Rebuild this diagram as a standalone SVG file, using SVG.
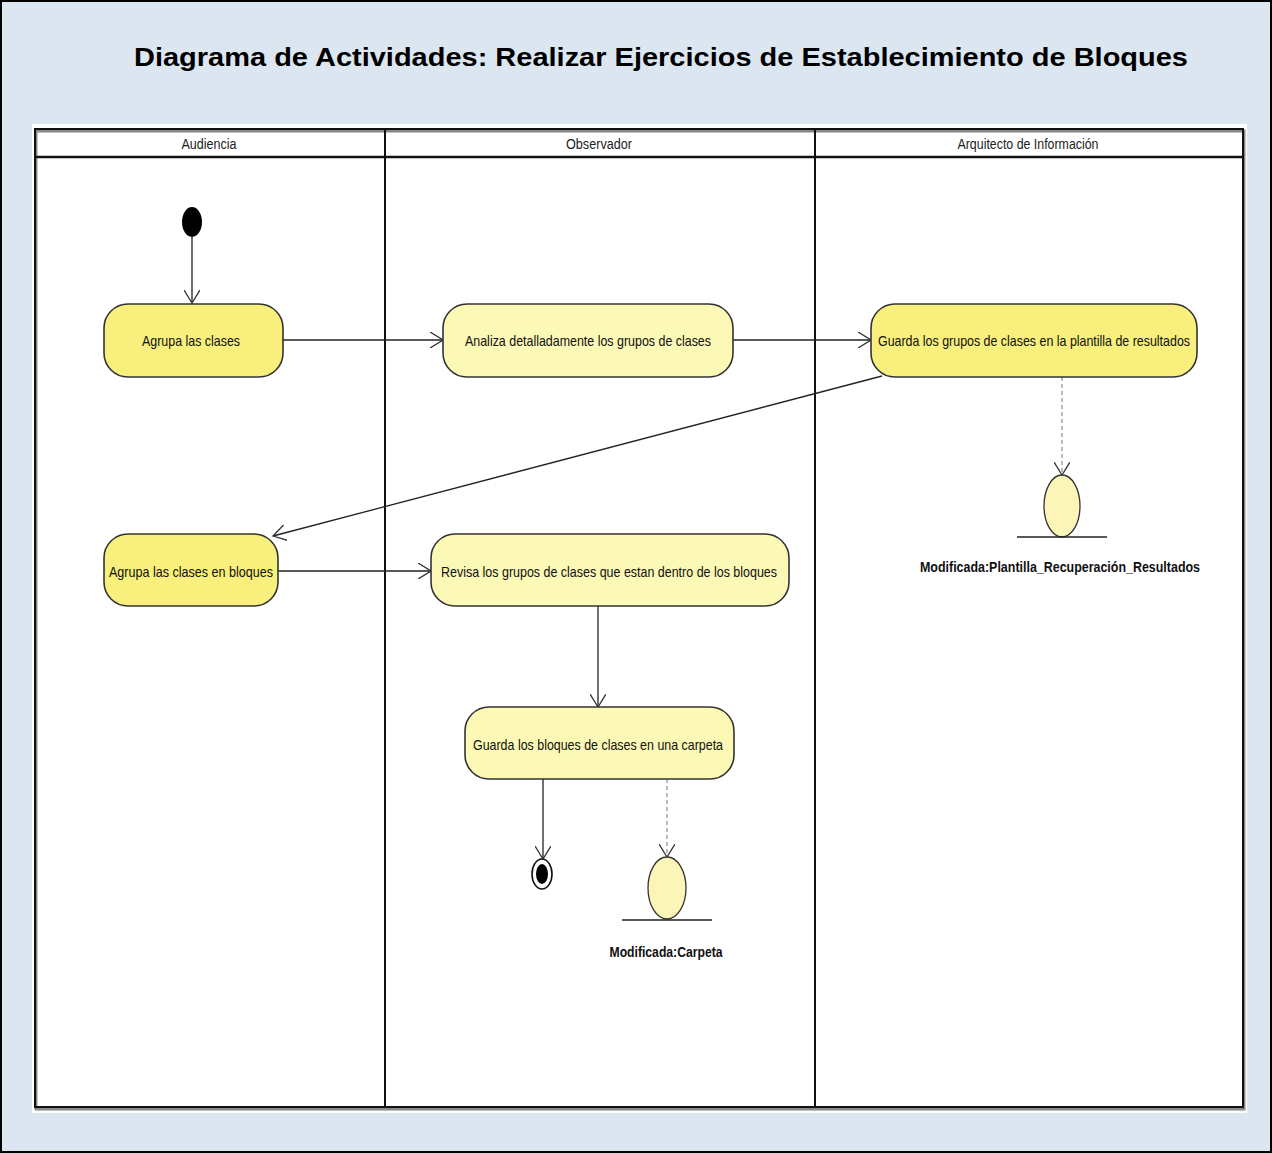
<svg xmlns="http://www.w3.org/2000/svg" width="1272" height="1153" viewBox="0 0 1272 1153">
<style>
.title{font-family:"Liberation Sans",Arial,sans-serif;font-weight:bold;font-size:25px;fill:#000}
.hdr{font-family:"Liberation Sans Narrow","Liberation Sans",sans-serif;font-size:14px;fill:#222}
.lbl{font-family:"Liberation Sans Narrow","Liberation Sans",sans-serif;font-size:15px;fill:#111}
.obj{font-family:"Liberation Sans Narrow","Liberation Sans",sans-serif;font-size:15px;font-weight:bold;fill:#111}
.act1{fill:#f8ef7c;stroke:#333;stroke-width:1.6}
.act2{fill:#fcf8b6;stroke:#333;stroke-width:1.6}
.objs{fill:#fbf6b8;stroke:#333;stroke-width:1.3}
.flow{stroke:#222;stroke-width:1.3;fill:none}
.dash{stroke:#777;stroke-width:1;stroke-dasharray:4 3;fill:none}
</style>
<defs>
<marker id="open" viewBox="0 0 14 16" refX="13" refY="8" markerWidth="14" markerHeight="16" markerUnits="userSpaceOnUse" orient="auto">
<path d="M0,0 L13,8 L0,16" fill="none" stroke="#333" stroke-width="1.3"/>
</marker>
</defs>
<rect x="1" y="1" width="1270" height="1151" fill="#dce6f1" stroke="#000" stroke-width="2"/>
<text class="title" x="661" y="66" text-anchor="middle" textLength="1054" lengthAdjust="spacingAndGlyphs">Diagrama de Actividades: Realizar Ejercicios de Establecimiento de Bloques</text>
<rect x="32" y="124" width="1215" height="989" fill="#fff"/>
<g id="swimlanes">
<rect x="36" y="131" width="1208" height="978" fill="none" stroke="#888" stroke-width="3"/>
<rect x="35" y="129" width="1208" height="978" fill="none" stroke="#111" stroke-width="2"/>
<line x1="35" y1="157" x2="1243" y2="157" stroke="#111" stroke-width="2.5"/>
<line x1="385" y1="129" x2="385" y2="1107" stroke="#111" stroke-width="2"/>
<line x1="815" y1="129" x2="815" y2="1107" stroke="#111" stroke-width="2"/>
<text class="hdr" x="209" y="149" text-anchor="middle" textLength="55" lengthAdjust="spacingAndGlyphs">Audiencia</text>
<text class="hdr" x="599" y="149" text-anchor="middle" textLength="66" lengthAdjust="spacingAndGlyphs">Observador</text>
<text class="hdr" x="1028" y="149" text-anchor="middle" textLength="141" lengthAdjust="spacingAndGlyphs">Arquitecto de Información</text>
</g>
<g id="connectors">
<line class="flow" x1="192" y1="237" x2="192" y2="303" marker-end="url(#open)"/>
<line class="flow" x1="283" y1="340" x2="443" y2="340" marker-end="url(#open)"/>
<line class="flow" x1="733" y1="340" x2="871" y2="340" marker-end="url(#open)"/>
<line class="flow" x1="882" y1="376" x2="273" y2="536" marker-end="url(#open)"/>
<line class="flow" x1="278" y1="571" x2="431" y2="571" marker-end="url(#open)"/>
<line class="flow" x1="598" y1="606" x2="598" y2="707" marker-end="url(#open)"/>
<line class="flow" x1="543" y1="779" x2="543" y2="859" marker-end="url(#open)"/>
<line class="dash" x1="1062" y1="377" x2="1062" y2="475" marker-end="url(#open)"/>
<line class="dash" x1="667" y1="779" x2="667" y2="857" marker-end="url(#open)"/>
</g>
<g id="initial">
<ellipse cx="192" cy="222" rx="10" ry="15" fill="#000"/>
</g>
<g id="agrupa-clases">
<rect class="act1" x="104" y="304" width="179" height="73" rx="24" ry="24"/>
<text class="lbl" x="191" y="346" text-anchor="middle" textLength="98" lengthAdjust="spacingAndGlyphs">Agrupa las clases</text>
</g>
<g id="analiza">
<rect class="act2" x="443" y="304" width="290" height="73" rx="24" ry="24"/>
<text class="lbl" x="588" y="346" text-anchor="middle" textLength="246" lengthAdjust="spacingAndGlyphs">Analiza detalladamente los grupos de clases</text>
</g>
<g id="guarda-plantilla">
<rect class="act1" x="871" y="304" width="326" height="73" rx="24" ry="24"/>
<text class="lbl" x="1034" y="346" text-anchor="middle" textLength="312" lengthAdjust="spacingAndGlyphs">Guarda los grupos de clases en la plantilla de resultados</text>
</g>
<g id="obj-plantilla">
<ellipse class="objs" cx="1062" cy="506" rx="18" ry="31"/>
<line x1="1017" y1="537" x2="1107" y2="537" stroke="#222" stroke-width="1.6"/>
<text class="obj" x="1060" y="572" text-anchor="middle" textLength="280" lengthAdjust="spacingAndGlyphs">Modificada:Plantilla_Recuperación_Resultados</text>
</g>
<g id="agrupa-bloques">
<rect class="act1" x="104" y="534" width="174" height="72" rx="24" ry="24"/>
<text class="lbl" x="191" y="577" text-anchor="middle" textLength="164" lengthAdjust="spacingAndGlyphs">Agrupa las clases en bloques</text>
</g>
<g id="revisa">
<rect class="act2" x="431" y="534" width="358" height="72" rx="24" ry="24"/>
<text class="lbl" x="609" y="577" text-anchor="middle" textLength="336" lengthAdjust="spacingAndGlyphs">Revisa los grupos de clases que estan dentro de los bloques</text>
</g>
<g id="guarda-carpeta">
<rect class="act2" x="465" y="707" width="269" height="72" rx="24" ry="24"/>
<text class="lbl" x="598" y="750" text-anchor="middle" textLength="250" lengthAdjust="spacingAndGlyphs">Guarda los bloques de clases en una carpeta</text>
</g>
<g id="final">
<ellipse cx="542" cy="874" rx="10" ry="15" fill="#fff" stroke="#111" stroke-width="1.6"/>
<ellipse cx="542" cy="874" rx="6" ry="10" fill="#000"/>
</g>
<g id="obj-carpeta">
<ellipse class="objs" cx="667" cy="888" rx="19" ry="31"/>
<line x1="622" y1="920" x2="712" y2="920" stroke="#222" stroke-width="1.6"/>
<text class="obj" x="666" y="957" text-anchor="middle" textLength="113" lengthAdjust="spacingAndGlyphs">Modificada:Carpeta</text>
</g>
</svg>
